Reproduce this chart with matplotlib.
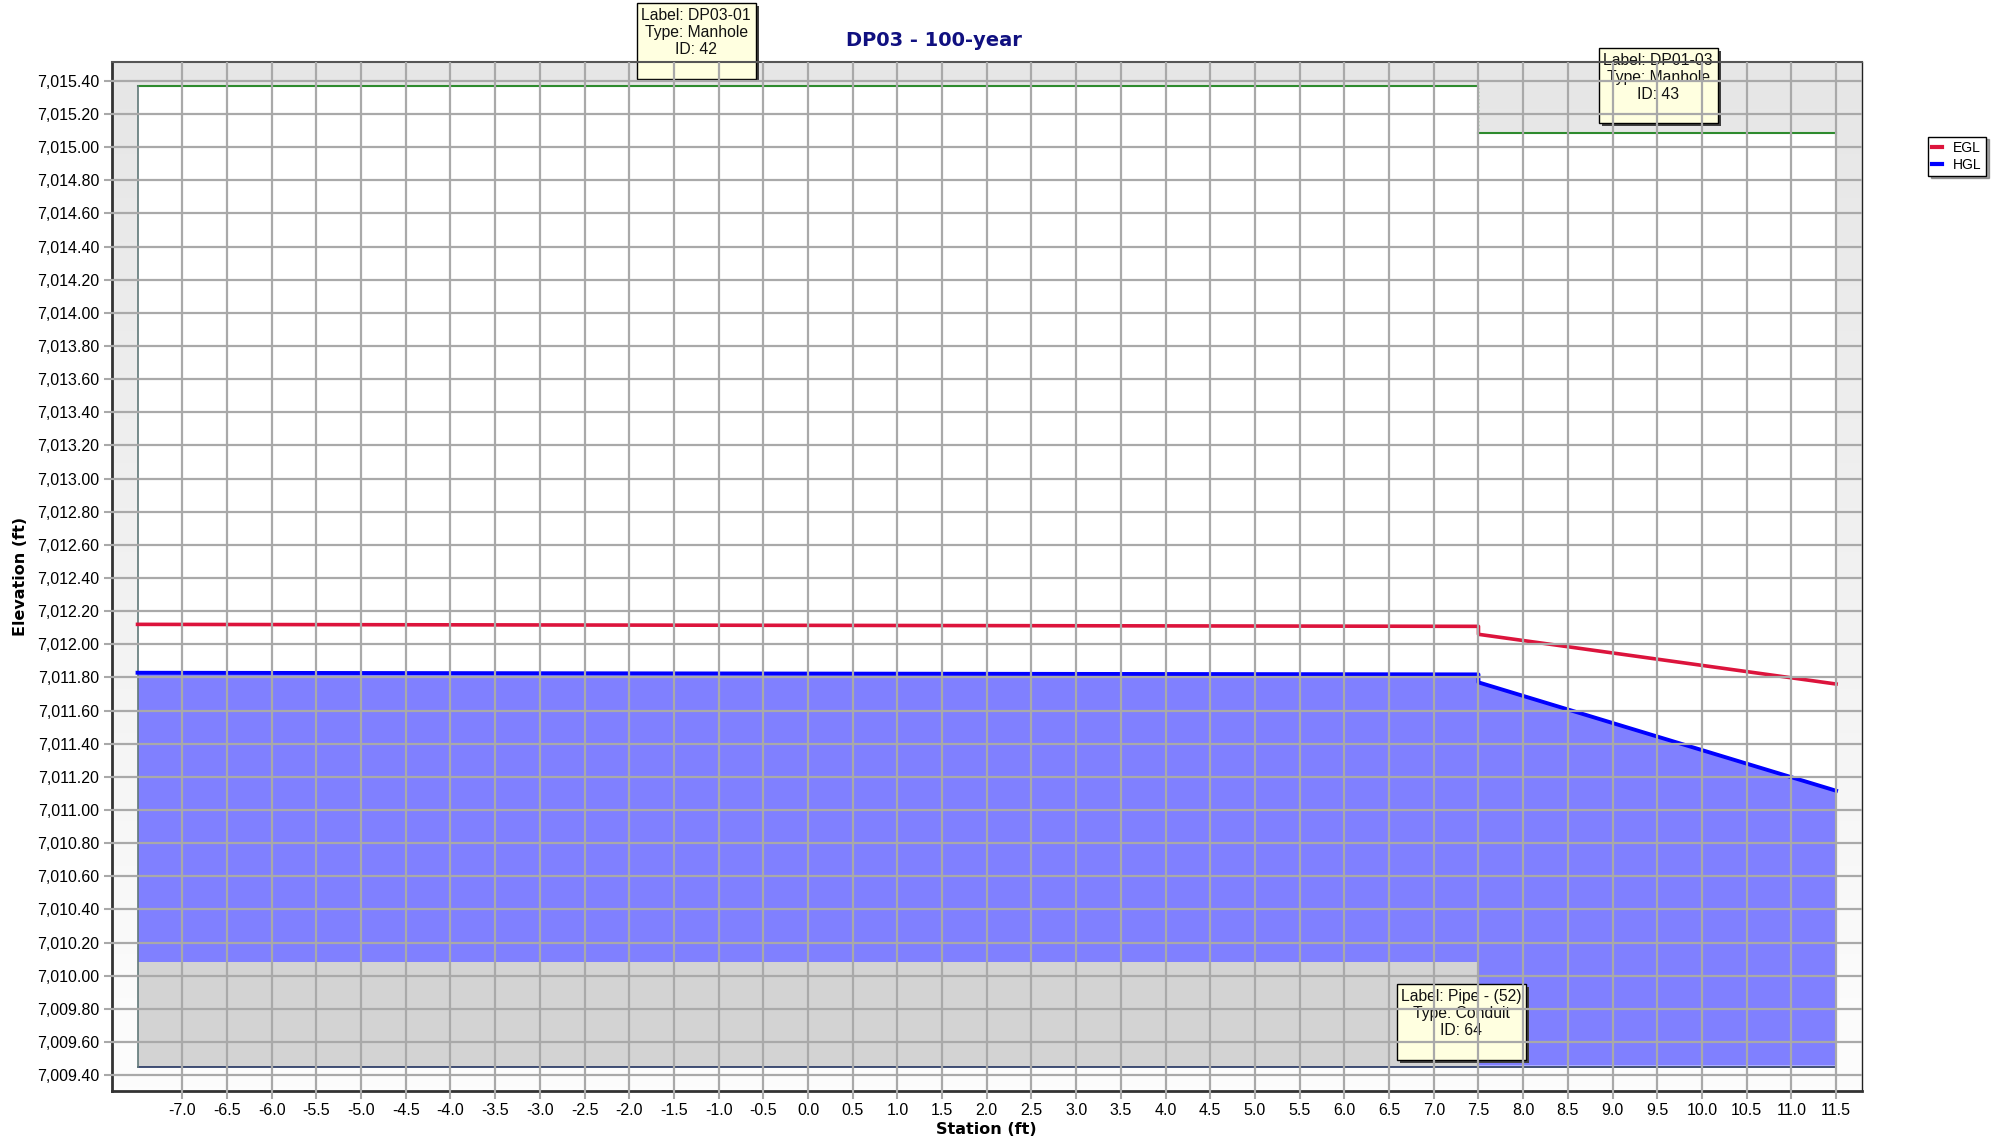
import numpy as np
import matplotlib
matplotlib.use("Agg")
import matplotlib.pyplot as plt
from matplotlib.patches import Rectangle
from matplotlib.lines import Line2D
from matplotlib.ticker import FuncFormatter

plt.rcParams['font.family'] = ['Liberation Sans', 'DejaVu Sans']
plt.rcParams['axes.unicode_minus'] = False

# === Profile data (station ft, elevation ft) ===
seg_start = [-7.5, 7.5]          # manhole DP03-01, then pipe
seg_end = [7.5, 11.5]
seg_rim = [7015.37, 7015.085]
seg_invert = [7009.45, 7009.45]
sump_top = 7010.085             # grey floor inside manhole
pipe_fill_bottom = 7009.46

hgl_x = [-7.5, 7.5, 7.5, 11.5]
hgl_y = [7011.828, 7011.818, 7011.77, 7011.116]
egl_x = [-7.5, 7.5, 7.5, 11.5]
egl_y = [7012.12, 7012.108, 7012.06, 7011.76]

x_ticks = np.round(np.arange(-7.0, 11.51, 0.5), 1)
y_ticks = np.round(np.arange(7009.4, 7015.41, 0.2), 2)

notes = [
    ("Label: DP03-01\nType: Manhole\nID: 42\n ", -1.25, 7015.84),
    ("Label: DP01-03\nType: Manhole\nID: 43\n ", 9.51, 7015.57),
    ("Label: Pipe - (52)\nType: Conduit\nID: 64\n ", 7.31, 7009.92),
]

fig = plt.figure(figsize=(20.11, 11.43), dpi=100)
ax = fig.add_axes([0.0555, 0.0455, 0.8704, 0.9003])
ax.set_xlim(-7.79, 11.79)
ax.set_ylim(7009.304, 7015.514)

# gradient background
grad = np.linspace(0, 1, 256).reshape(-1, 1)
ax.imshow(grad, extent=[0, 1, 0, 1], transform=ax.transAxes, aspect='auto',
          cmap=matplotlib.colors.LinearSegmentedColormap.from_list('bg', ['#fdfdfd', '#e6e6e6']),
          origin='lower', zorder=0)

# structure interiors
for x0, x1, rim, inv in zip(seg_start, seg_end, seg_rim, seg_invert):
    ax.fill_between([x0, x1], inv, rim, color='white', zorder=0.5, linewidth=0)
    ax.plot([x0, x1], [rim, rim], color='#2e8b2e', lw=1.5, zorder=1.5)
    ax.plot([x0, x1], [inv, inv], color='#22335f', lw=1.2, zorder=1.5)

# hgl fill
ax.fill_between(hgl_x[:2], sump_top, hgl_y[:2], color='#8080ff', lw=0, zorder=0.8)
ax.fill_between(hgl_x[2:], pipe_fill_bottom, hgl_y[2:], color='#8080ff', lw=0, zorder=0.8)
ax.fill_between([seg_start[0], seg_end[0]], seg_invert[0], sump_top, color='#d3d3d3', lw=0, zorder=0.8)

# structure edges
ax.plot([seg_start[0], seg_start[0]], [seg_invert[0], seg_rim[0]], color='#607878', lw=1.2, zorder=1.5)
ax.plot([seg_end[1], seg_end[1]], [seg_invert[1], seg_rim[1]], color='#405050', lw=1.2, zorder=1.5)
ax.plot([seg_end[0], seg_end[0]], [seg_rim[1], seg_rim[0]], color='#2e8b2e', lw=1, ls=':', zorder=1.5)

ax.plot(egl_x, egl_y, color='#dc143c', lw=2.6, zorder=2)
ax.plot(hgl_x, hgl_y, color='#0000ff', lw=2.8, zorder=2)

# annotation boxes
note_texts = []
for txt, xx, yy in notes:
    t = ax.text(xx, yy, txt, ha='center', va='top', fontsize=11.3, color='#111111',
                clip_on=False, zorder=1.95, linespacing=1.17,
                bbox=dict(boxstyle='square,pad=0.3', fc='#ffffe0', ec='black', lw=1))
    note_texts.append(t)

ax.set_xticks(x_ticks)
ax.set_yticks(y_ticks)
ax.xaxis.set_major_formatter(FuncFormatter(lambda v, p: f"{v:.1f}"))
ax.yaxis.set_major_formatter(FuncFormatter(lambda v, p: f"{v:,.2f}"))
ax.tick_params(length=6, width=1.5, color='#a9a9a9', labelsize=11.5, pad=3)
ax.set_axisbelow(False)
ax.grid(True, color='#a9a9a9', lw=1.6)

for side in ['left', 'bottom']:
    ax.spines[side].set_color('#333333')
    ax.spines[side].set_linewidth(2)
ax.spines['top'].set_color('#555555')
ax.spines['top'].set_linewidth(1.5)
ax.spines['right'].set_color('#222222')
ax.spines['right'].set_linewidth(1)

ax.set_ylabel("Elevation (ft)", fontsize=11.5, fontweight='bold', family='DejaVu Sans')
ax.yaxis.set_label_coords(-0.048, 0.5)
ax.set_xlabel("Station (ft)", fontsize=11.5, fontweight='bold', family='DejaVu Sans')
ax.xaxis.set_label_coords(0.5, -0.030)

fig.text(0.4645, 0.965, "DP03 - 100-year", ha='center', va='center', fontsize=14,
         fontweight='bold', color='#101080', family='DejaVu Sans')

handles = [Line2D([], [], color='#dc143c', lw=3), Line2D([], [], color='#0000ff', lw=3)]
fig.legend(handles, ["EGL", "HGL"], loc='upper left', bbox_to_anchor=(0.9553, 0.8866),
           fontsize=10, handlelength=0.7, handletextpad=0.8, borderpad=0.3, labelspacing=0.2,
           fancybox=False, shadow=True, edgecolor='black', framealpha=1)

# drop shadows behind the note boxes
fig.canvas.draw()
for t in note_texts:
    bb = t.get_bbox_patch().get_window_extent()
    ax.add_patch(Rectangle((bb.x0 + 3, bb.y0 - 3), bb.width, bb.height, transform=None,
                           fc='#404040', ec='none', zorder=1.9, clip_on=False))

fig.savefig("out.png", dpi=100)
